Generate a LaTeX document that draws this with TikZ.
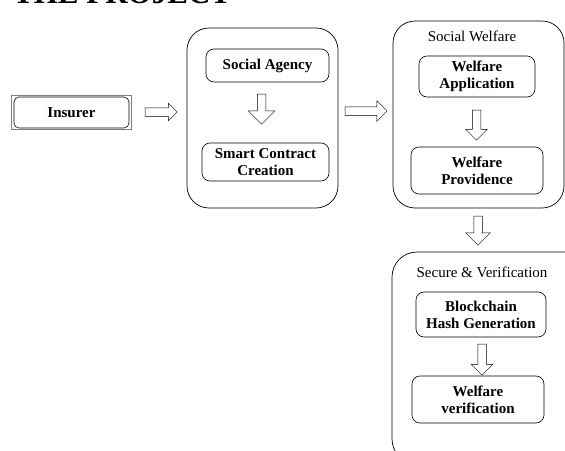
\documentclass[tikz,border=0pt]{standalone}
\usepackage{fontspec}
\setmainfont{Liberation Serif}
\usetikzlibrary{positioning,shapes.arrows}

\tikzset{
  blockbox/.style={draw,rounded corners=8pt,align=center,inner sep=0pt,line width=0.6pt,font=\fontsize{15}{17}\selectfont\bfseries},
  groupbox/.style={draw,rounded corners=22pt,inner sep=0pt,line width=0.7pt},
  fatright/.style={draw,single arrow,single arrow head extend=4.5pt,inner sep=4pt,line width=0.5pt},
  fatdown/.style={fatright,shape border rotate=270}
}

\begin{document}
\begin{tikzpicture}[x=1pt,y=-1pt,font=\fontsize{15}{17}\selectfont]
\useasboundingbox (0,0) rectangle (565,450);

% title, cut off at the top
\node[anchor=base west,inner sep=0pt,font=\fontsize{31}{31}\selectfont\bfseries] (title) at (13,3) {THE PROJECT};

% insurer
\node[blockbox,rounded corners=5pt,minimum width=115pt,minimum height=31pt] (insurer) at (71.5,112.5) {Insurer};
\draw[gray,line width=0.5pt] ([shift={(-2pt,1.5pt)}]insurer.north west) rectangle ([shift={(2pt,-1pt)}]insurer.south east);

% social agency group
\node[groupbox,minimum width=151pt,minimum height=180pt] (agency) at (262.5,118) {};
\node[blockbox,minimum width=123pt,minimum height=33pt] (socag) at (267.5,65.5) {Social Agency};
\node[blockbox,minimum width=127pt,minimum height=38pt] (smart) at (265.5,162) {Smart Contract\\Creation};

% social welfare group
\node[groupbox,minimum width=171pt,minimum height=187pt] (welfare) at (478.5,114.5) {};
\node[inner sep=0pt] (welttl) at (472,36) {Social Welfare};
\node[blockbox,minimum width=116pt,minimum height=41pt] (wapp) at (477,76.5) {Welfare\\Application};
\node[blockbox,minimum width=132pt,minimum height=47pt] (wprov) at (477,170.5) {Welfare\\Providence};

% secure group, cut off right and bottom
\node[groupbox,rounded corners=25pt,minimum width=200pt,minimum height=212pt] (secure) at (492,358) {};
\node[inner sep=0pt] (secttl) at (482,272) {Secure \& Verification};
\node[blockbox,minimum width=130pt,minimum height=45pt] (hash) at (481,314.5) {Blockchain\\Hash Generation};
\node[blockbox,minimum width=132pt,minimum height=47pt] (wver) at (478,399.5) {Welfare\\verification};

% block arrows
\node[fatright,minimum height=32pt] (a1) at (159,112) {};
\node[fatright,minimum height=42pt,single arrow head extend=6pt] (a2) at (364,111) {};
\node[fatdown,minimum height=30pt,single arrow head extend=9pt] (a3) at (261.5,107) {};
\node[fatdown,minimum height=30pt,single arrow head extend=6.5pt] (a4) at (476.5,123) {};
\node[fatdown,minimum height=29pt,single arrow head extend=8pt] (a5) at (478,228.5) {};
\node[fatdown,minimum height=31pt,single arrow head extend=6.5pt] (a6) at (482,357.5) {};
\end{tikzpicture}
\end{document}
